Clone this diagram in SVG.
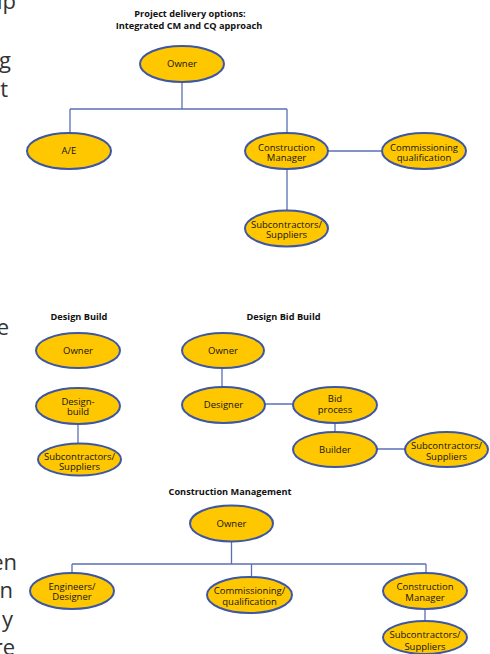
<svg xmlns="http://www.w3.org/2000/svg" width="490" height="654" viewBox="0 0 490 654">
<style>
.n ellipse{fill:#FFC700;stroke:#3D57A3;stroke-width:2}
.n text{font-family:"Open Sans","Noto Sans",sans-serif;font-size:9.5px;fill:#141414;text-anchor:middle}
.t{font-family:"Open Sans","Noto Sans",sans-serif;font-size:9.2px;font-weight:bold;fill:#111;text-anchor:middle}
.c path{fill:none;stroke:#5B6FB5;stroke-width:1.3}
.f{font-family:"Open Sans","Noto Sans",sans-serif;font-size:22px;fill:#333;text-anchor:end}
</style>
<rect width="490" height="654" fill="#fff"/>
<g id="fragments">
<text class="f" x="16" y="9">ip</text>
<text class="f" x="11" y="68">g</text>
<text class="f" x="8" y="97">t</text>
<text class="f" x="9" y="335">e</text>
<text class="f" x="17" y="570">en</text>
<text class="f" x="13" y="598">n</text>
<text class="f" x="13" y="627">y</text>
<text class="f" x="15" y="655">re</text>
</g>
<g id="titles">
<text class="t" x="190" y="17">Project delivery options:</text>
<text class="t" x="189" y="29">Integrated CM and CQ approach</text>
<text class="t" x="79" y="320">Design Build</text>
<text class="t" x="283.5" y="320">Design Bid Build</text>
<text class="t" x="230" y="495">Construction Management</text>
</g>
<g id="connectors" class="c">
<path d="M182,82V109M70,109H287M70,109V133M287,109V133M328,151H382M287,169V210"/>
<path d="M78,424V444"/>
<path d="M222,368V387M265,404H293M335,423V432M377,449H405"/>
<path d="M231.5,541.5V564M72,564H426M72,564V573M251.5,564V577M426,564V573M425,609V621"/>
</g>
<g id="owner1" class="n"><ellipse cx="182" cy="64" rx="42" ry="18"/><text x="182" y="67">Owner</text></g>
<g id="ae" class="n"><ellipse cx="69" cy="151" rx="42" ry="18"/><text x="69" y="154">A/E</text></g>
<g id="cm1" class="n"><ellipse cx="286.5" cy="151" rx="41.5" ry="18"/><text x="286.5" y="150.5">Construction<tspan x="286.5" dy="10">Manager</tspan></text></g>
<g id="cq" class="n"><ellipse cx="424" cy="151" rx="42" ry="18"/><text x="424" y="150.5">Commissioning<tspan x="424" dy="10">qualification</tspan></text></g>
<g id="subs1" class="n"><ellipse cx="286.5" cy="228.5" rx="41.5" ry="18"/><text x="286.5" y="228">Subcontractors/<tspan x="286.5" dy="10">Suppliers</tspan></text></g>

<g id="db_owner" class="n"><ellipse cx="78" cy="350.5" rx="42" ry="17.5"/><text x="78" y="353.5">Owner</text></g>
<g id="db_designbuild" class="n"><ellipse cx="78" cy="406" rx="42" ry="18"/><text x="78" y="405">Design-<tspan x="78" dy="10">build</tspan></text></g>
<g id="db_subs" class="n"><ellipse cx="79.5" cy="459.5" rx="41.5" ry="16"/><text x="79.5" y="459.5">Subcontractors/<tspan x="79.5" dy="10.5">Suppliers</tspan></text></g>

<g id="dbb_owner" class="n"><ellipse cx="223" cy="350.5" rx="41" ry="17.5"/><text x="223" y="353.5">Owner</text></g>
<g id="dbb_designer" class="n"><ellipse cx="223.5" cy="405" rx="41.5" ry="18"/><text x="223.5" y="408">Designer</text></g>
<g id="dbb_bid" class="n"><ellipse cx="335" cy="405" rx="42" ry="18"/><text x="335" y="402">Bid<tspan x="335" dy="11">process</tspan></text></g>
<g id="dbb_builder" class="n"><ellipse cx="335" cy="449.5" rx="42" ry="17.5"/><text x="335" y="452.5">Builder</text></g>
<g id="dbb_subs" class="n"><ellipse cx="446.5" cy="449.5" rx="41.5" ry="17.5"/><text x="446.5" y="449">Subcontractors/<tspan x="446.5" dy="10.5">Suppliers</tspan></text></g>

<g id="cm_owner" class="n"><ellipse cx="231.5" cy="523.5" rx="41.5" ry="18"/><text x="231.5" y="526.5">Owner</text></g>
<g id="cm_eng" class="n"><ellipse cx="72" cy="591" rx="42" ry="18"/><text x="72" y="590">Engineers/<tspan x="72" dy="10">Designer</tspan></text></g>
<g id="cm_comm" class="n"><ellipse cx="249.5" cy="595" rx="42.5" ry="18"/><text x="249.5" y="594">Commissioning/<tspan x="249.5" dy="10.5">qualification</tspan></text></g>
<g id="cm_cm" class="n"><ellipse cx="425" cy="591" rx="42" ry="18"/><text x="425" y="590">Construction<tspan x="425" dy="10.5">Manager</tspan></text></g>
<g id="cm_subs" class="n"><ellipse cx="425" cy="637.5" rx="42" ry="16.5"/><text x="425" y="638">Subcontractors/<tspan x="425" dy="11.5">Suppliers</tspan></text></g>
</svg>
